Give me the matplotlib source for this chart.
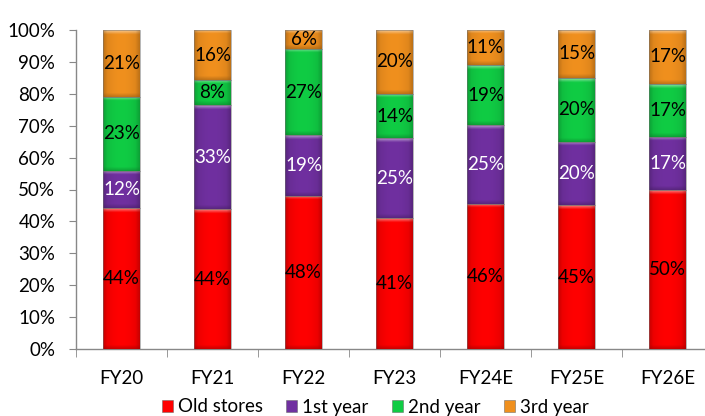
import matplotlib
matplotlib.use("Agg")
import matplotlib.pyplot as plt
import numpy as np
from matplotlib.colors import to_rgb
from matplotlib.patches import Rectangle

categories = ["FY20", "FY21", "FY22", "FY23", "FY24E", "FY25E", "FY26E"]
old_stores = [44.2, 43.8, 48.0, 41.0, 45.6, 45.0, 49.8]
first_year = [11.6, 32.6, 19.0, 25.0, 24.6, 20.0, 16.7]
second_year = [23.2, 7.9, 27.0, 14.0, 18.8, 20.0, 16.6]
third_year = [21.0, 15.7, 6.0, 20.0, 11.0, 15.0, 16.9]
series_names = ["Old stores", "1st year", "2nd year", "3rd year"]
yticks = [0, 10, 20, 30, 40, 50, 60, 70, 80, 90, 100]

colors = ["#FF0000", "#7030A0", "#10CC44", "#F0901E"]
label_colors = ["black", "white", "black", "black"]

plt.rcParams['font.family'] = ['Lato', 'DejaVu Sans']
FS = 13.5

fig = plt.figure(figsize=(7.05, 4.16), dpi=100)
ax = fig.add_axes([76/705, (416-349)/416, (713-76)/705, (349-30)/416])

data = [old_stores, first_year, second_year, third_year]
x = np.arange(len(categories))
width = 0.4

def bevel_image(color, w_px, h_px, b=4):
    w_px = max(int(w_px), 2); h_px = max(int(h_px), 2)
    base = np.array(to_rgb(color))
    img = np.tile(base, (h_px, w_px, 1)).astype(float)
    xs = np.linspace(-1, 1, w_px)
    shade = 1 - 0.12 * xs**2
    img *= shade[None, :, None]
    white = np.ones(3)
    dark = base * 0.6
    for i in range(min(b, h_px)):
        t = 0.5 * (1 - i / b)
        img[i, :, :] = img[i, :, :] * (1 - t) + white * t
        img[h_px - 1 - i, :, :] = img[h_px - 1 - i, :, :] * (1 - t) + dark * t
    for j in range(min(b, w_px)):
        t = 0.35 * (1 - j / b)
        img[:, j, :] = img[:, j, :] * (1 - t) + dark * t
        img[:, w_px - 1 - j, :] = img[:, w_px - 1 - j, :] * (1 - t) + dark * t
    return np.clip(img, 0, 1)

px_per_x = (713 - 76) / 7
px_per_y = (349 - 30) / 100

bottoms = np.zeros(len(categories))
for si, (vals, col) in enumerate(zip(data, colors)):
    vals = np.array(vals)
    ax.bar(x, vals, width, bottom=bottoms, color=col, edgecolor="none",
           label=series_names[si], zorder=2)
    for xi, (b0, v) in enumerate(zip(bottoms, vals)):
        img = bevel_image(col, width * px_per_x * 2, v * px_per_y * 2, b=8)
        ax.imshow(img, extent=(xi - width/2, xi + width/2, b0, b0 + v),
                  aspect='auto', zorder=3, interpolation='bilinear')
        ax.add_patch(Rectangle((xi - width/2, b0), width, v, fill=False,
                               edgecolor=(0.45, 0.45, 0.45, 0.6), lw=0.6, zorder=4))
        ax.text(xi, b0 + v/2, f"{v:.0f}%", ha='center', va='center',
                color=label_colors[si], fontsize=FS, zorder=5)
    bottoms = bottoms + vals

ax.set_xlim(-0.5, len(categories) - 0.5)
ax.set_ylim(0, 100)
ax.set_yticks(yticks)
ax.set_yticklabels([f"{t}%" for t in yticks], fontsize=FS)
ax.set_xticks(x)
ax.set_xticklabels(categories, fontsize=FS)
ax.set_xticks(np.arange(-0.5, len(categories), 1), minor=True)
ax.tick_params(axis='x', which='major', length=0, pad=15)
ax.tick_params(axis='x', which='minor', length=6, color='#888888', direction='out')
ax.tick_params(axis='y', length=5, color='#888888', pad=10)
for s in ['top', 'right']:
    ax.spines[s].set_visible(False)
for s in ['left', 'bottom']:
    ax.spines[s].set_color('#888888')
    ax.spines[s].set_linewidth(1.0)

handles = [Rectangle((0, 0), 1, 1, facecolor=c, edgecolor=(0.4, 0.4, 0.4, 0.6), lw=0.6) for c in colors]
fig.legend(handles, series_names, loc='center', bbox_to_anchor=(375/705, 1 - 407/416),
           ncol=4, frameon=False, fontsize=FS, handlelength=0.6, handleheight=0.6,
           handletextpad=0.25, columnspacing=1.25)

fig.savefig("out.png", dpi=100)
